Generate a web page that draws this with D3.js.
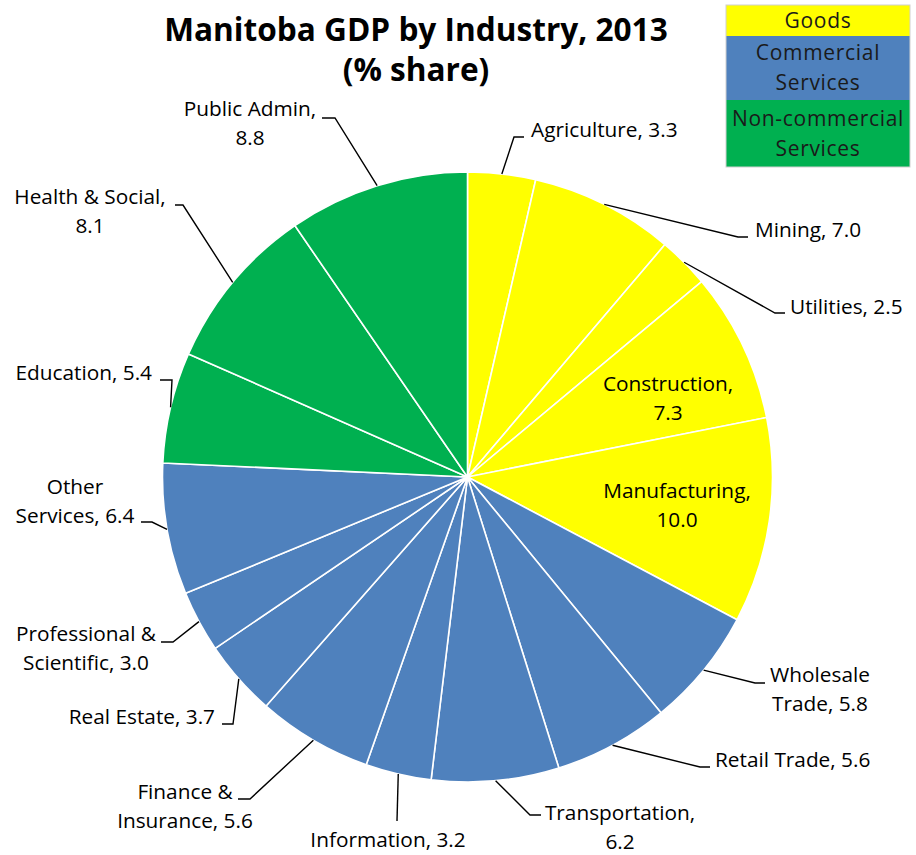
<!DOCTYPE html>
<html>
<head>
<meta charset="utf-8">
<script src="https://cdn.jsdelivr.net/npm/d3@7"></script>
<style>
  html, body { margin: 0; padding: 0; background: #fff; }
  svg { display: block; font-family: "Open Sans", sans-serif; }
</style>
</head>
<body>
<svg id="chart" width="916" height="855"></svg>
<script>
// ---- Data ----
const categories = ["Agriculture", "Mining", "Utilities", "Construction", "Manufacturing",
  "Wholesale Trade", "Retail Trade", "Transportation", "Information", "Finance & Insurance",
  "Real Estate", "Professional & Scientific", "Other Services", "Education",
  "Health & Social", "Public Admin"];
const values = [3.3, 7.0, 2.5, 7.3, 10.0, 5.8, 5.6, 6.2, 3.2, 5.6, 3.7, 3.0, 6.4, 5.4, 8.1, 8.8];
const sectors = ["Goods", "Goods", "Goods", "Goods", "Goods",
  "Commercial", "Commercial", "Commercial", "Commercial", "Commercial",
  "Commercial", "Commercial", "Commercial",
  "Non-commercial", "Non-commercial", "Non-commercial"];
const legendKeys = ["Goods", "Commercial", "Non-commercial"];
const legendLabels = [["Goods"], ["Commercial", "Services"], ["Non-commercial", "Services"]];
const sectorColors = ["#FFFF00", "#4F81BD", "#00B050"];
const titleLines = ["Manitoba GDP by Industry, 2013", "(% share)"];

// ---- Layout (positions only) ----
const cx = 467.5, cy = 477, R = 305;
// per-slice label placement: elbow/end of leader line, text anchor point, words on first line
const labelLayout = [
  {elbow: [514, 137], end: [524, 137], tx: 531, ty: 130, anchor: "start", split: 0},
  {elbow: [738, 237], end: [748, 237], tx: 755, ty: 230, anchor: "start", split: 0},
  {elbow: [775, 313], end: [785, 313], tx: 790, ty: 307, anchor: "start", split: 0},
  {inside: true, tx: 668, ty: 384, anchor: "middle", split: 1},
  {inside: true, tx: 677, ty: 491, anchor: "middle", split: 1},
  {elbow: [755, 683], end: [765, 683], tx: 820, ty: 675, anchor: "middle", split: 1},
  {elbow: [700, 767], end: [710, 767], tx: 715, ty: 760, anchor: "start", split: 0},
  {elbow: [530, 815], end: [541, 815], tx: 620, ty: 813, anchor: "middle", split: 1},
  {elbow: [397, 821], end: [397, 821], tx: 388, ty: 840, anchor: "middle", split: 0},
  {elbow: [250, 799], end: [238, 799], tx: 185, ty: 792, anchor: "middle", split: 2},
  {elbow: [233, 724], end: [222, 724], tx: 215, ty: 717, anchor: "end", split: 0},
  {elbow: [173, 642], end: [161, 642], tx: 86, ty: 634, anchor: "middle", split: 2},
  {elbow: [152, 522], end: [141, 522], tx: 75, ty: 487, anchor: "middle", split: 1},
  {elbow: [172, 380], end: [160, 380], tx: 152, ty: 373, anchor: "end", split: 0},
  {elbow: [183, 205], end: [175, 205], tx: 90, ty: 197, anchor: "middle", split: 3},
  {elbow: [335, 118], end: [322, 118], tx: 250, ty: 109, anchor: "middle", split: 2}
];

const svg = d3.select("#chart");
const color = d3.scaleOrdinal().domain(legendKeys).range(sectorColors);

const rows = categories.map((c, i) => ({cat: c, value: values[i], sector: sectors[i], layout: labelLayout[i]}));

const pie = d3.pie().value(d => d.value).sort(null);
const arcs = pie(rows);
const arc = d3.arc().innerRadius(0).outerRadius(R);

const g = svg.append("g").attr("transform", `translate(${cx},${cy})`);
g.selectAll("path.slice").data(arcs).join("path")
  .attr("class", "slice")
  .attr("d", arc)
  .attr("fill", d => color(d.data.sector))
  .attr("stroke", "#fff")
  .attr("stroke-width", 1.6)
  .attr("stroke-linejoin", "round");

// leader lines
const lineGen = d3.line();
arcs.forEach(a => {
  const L = a.data.layout;
  if (L.inside) return;
  const mid = (a.startAngle + a.endAngle) / 2;
  const sx = cx + R * Math.sin(mid), sy = cy - R * Math.cos(mid);
  svg.append("path")
    .attr("d", lineGen([[sx, sy], L.elbow, L.end]))
    .attr("fill", "none").attr("stroke", "#000").attr("stroke-width", 1.4);
});

// labels
const lineH = 29;
arcs.forEach(a => {
  const L = a.data.layout;
  const full = `${a.data.cat}, ${a.data.value.toFixed(1)}`;
  const words = full.split(" ");
  const lines = L.split ? [words.slice(0, L.split).join(" "), words.slice(L.split).join(" ")] : [full];
  const t = svg.append("text")
    .attr("text-anchor", L.anchor)
    .attr("font-size", 20.8)
    .attr("fill", "#000");
  lines.forEach((ln, k) => {
    t.append("tspan").attr("x", L.tx).attr("y", L.ty + k * lineH).attr("dy", "0.35em").text(ln);
  });
});

// title
svg.append("text")
  .attr("text-anchor", "middle").attr("font-weight", "bold").attr("font-size", 31.6).attr("fill", "#000")
  .selectAll("tspan").data(titleLines).join("tspan")
  .attr("x", 416).attr("y", (d, i) => 30 + i * 40).attr("dy", "0.35em").text(d => d);

// legend
const legX = 726, legW = 184;
const legRows = [{y: 5, h: 31}, {y: 36, h: 64}, {y: 100, h: 67}];
const leg = svg.append("g");
legendKeys.forEach((k, i) => {
  leg.append("rect").attr("x", legX).attr("y", legRows[i].y).attr("width", legW).attr("height", legRows[i].h)
    .attr("fill", color(k));
  const n = legendLabels[i].length;
  const midY = legRows[i].y + legRows[i].h / 2;
  legendLabels[i].forEach((ln, j) => {
    leg.append("text").attr("x", legX + legW / 2).attr("y", midY + (j - (n - 1) / 2) * 30)
      .attr("dy", "0.35em").attr("text-anchor", "middle").attr("font-size", 21)
      .attr("letter-spacing", 0.7).attr("fill", "#1a1a1a").text(ln);
  });
});
leg.append("rect").attr("x", legX).attr("y", 5).attr("width", legW).attr("height", 162)
  .attr("fill", "none").attr("stroke", "#d0d0d0").attr("stroke-width", 1);
</script>
</body>
</html>
